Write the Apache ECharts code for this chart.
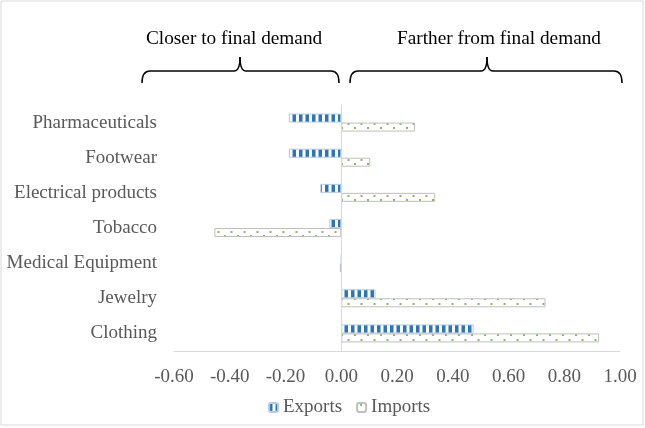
<!DOCTYPE html>
<html>
<head>
<meta charset="utf-8">
<style>
  html, body { margin: 0; padding: 0; background: #fff; }
  #chart { width: 645px; height: 428px; }
</style>
<script src="https://cdn.jsdelivr.net/npm/echarts@6/dist/echarts.min.js"></script>
</head>
<body>
<div id="chart"></div>
<script>
// categories, bottom to top
var categories = ['Clothing', 'Jewelry', 'Medical Equipment', 'Tobacco', 'Electrical products', 'Footwear', 'Pharmaceuticals']
var exportsData = [0.475, 0.123, 0, -0.043, -0.075, -0.188, -0.188]
var importsData = [0.925, 0.733, -0.005, -0.455, 0.337, 0.104, 0.265]
var seriesNames = ['Exports', 'Imports']
var braceLabels = ['Closer to final demand', 'Farther from final demand']

var serif = '"Liberation Serif", "Times New Roman", serif'

// vertical blue stripes
function stripePattern() {
  var c = document.createElement('canvas')
  c.width = 13
  c.height = 8
  var ctx = c.getContext('2d')
  ctx.fillStyle = '#ffffff'
  ctx.fillRect(0, 0, 13, 8)
  ctx.fillStyle = '#2e75b6'
  ctx.fillRect(0, 0, 3.5, 8)
  ctx.fillRect(6.5, 0, 3.5, 8)
  return c
}

// white fill with small green dots
function dotPattern() {
  var c = document.createElement('canvas')
  c.width = 13
  c.height = 9
  var ctx = c.getContext('2d')
  ctx.fillStyle = '#ffffff'
  ctx.fillRect(0, 0, 13, 9)
  ctx.fillStyle = '#86b86c'
  ctx.fillRect(3, 1, 2, 2)
  ctx.fillRect(9.5, 6, 2, 2)
  return c
}

// curly brace: left end, tip, right end, horizontal line at y
function brace(x0, xm, x1, y) {
  var st = { fill: 'none', stroke: '#000', lineWidth: 1.5 }
  var top = y - 14
  var bot = y + 12
  return {
    type: 'group',
    silent: true,
    children: [
      { type: 'bezierCurve', shape: { x1: x0, y1: bot, cpx1: x0, cpy1: y, x2: x0 + 8, y2: y }, style: st },
      { type: 'line', shape: { x1: x0 + 8, y1: y, x2: xm - 6, y2: y }, style: st },
      { type: 'bezierCurve', shape: { x1: xm - 6, y1: y, cpx1: xm, cpy1: y, x2: xm, y2: top }, style: st },
      { type: 'bezierCurve', shape: { x1: xm, y1: top, cpx1: xm, cpy1: y, x2: xm + 6, y2: y }, style: st },
      { type: 'line', shape: { x1: xm + 6, y1: y, x2: x1 - 8, y2: y }, style: st },
      { type: 'bezierCurve', shape: { x1: x1 - 8, y1: y, cpx1: x1, cpy1: y, x2: x1, y2: bot }, style: st }
    ]
  }
}

var myChart = echarts.init(document.getElementById('chart'))

var option = {
  backgroundColor: '#ffffff',
  animation: false,
  grid: {
    left: 174,
    right: 25,
    top: 105,
    bottom: 77
  },
  legend: {
    left: 263,
    top: 393,
    itemWidth: 9,
    itemHeight: 9,
    itemGap: 14,
    textStyle: {
      color: '#595959',
      fontFamily: serif,
      fontSize: 19
    },
    data: seriesNames
  },
  xAxis: {
    type: 'value',
    min: -0.6,
    max: 1.0,
    interval: 0.2,
    axisLine: {
      show: true,
      lineStyle: { color: '#d9d9d9', width: 1 }
    },
    axisTick: { show: false },
    splitLine: { show: false },
    axisLabel: {
      color: '#595959',
      fontFamily: serif,
      fontSize: 19,
      margin: 17,
      formatter: function (v) {
        if (Math.abs(v) < 1e-9) return '0.00'
        return v.toFixed(2)
      }
    }
  },
  yAxis: {
    type: 'category',
    data: categories,
    axisLine: { show: false },
    axisTick: { show: false },
    axisLabel: {
      color: '#595959',
      fontFamily: serif,
      fontSize: 19,
      margin: 17
    }
  },
  series: [
    {
      name: seriesNames[0],
      type: 'bar',
      barWidth: 9,
      barGap: '0%',
      data: exportsData,
      itemStyle: {
        color: { image: stripePattern(), repeat: 'repeat' },
        borderColor: '#b4cde4',
        borderWidth: 1
      },
      markLine: {
        silent: true,
        symbol: 'none',
        label: { show: false },
        lineStyle: { color: '#d9d9d9', type: 'solid', width: 1 },
        data: [{ xAxis: 0 }]
      }
    },
    {
      name: seriesNames[1],
      type: 'bar',
      barWidth: 9,
      barGap: '0%',
      data: importsData,
      itemStyle: {
        color: { image: dotPattern(), repeat: 'repeat' },
        borderColor: '#bfbfbf',
        borderWidth: 1
      }
    }
  ],
  graphic: [
    {
      type: 'rect',
      silent: true,
      shape: { x: 1, y: 1, width: 642, height: 424 },
      style: { fill: 'none', stroke: '#d9d9d9', lineWidth: 1 }
    },
    {
      type: 'text',
      x: 146,
      y: 29,
      style: { text: braceLabels[0], fill: '#000', font: '19.3px ' + serif }
    },
    {
      type: 'text',
      x: 397,
      y: 29,
      style: { text: braceLabels[1], fill: '#000', font: '19.3px ' + serif }
    },
    brace(142, 240, 339, 71),
    brace(350, 487, 622, 71)
  ]
}

myChart.setOption(option)
</script>
</body>
</html>
